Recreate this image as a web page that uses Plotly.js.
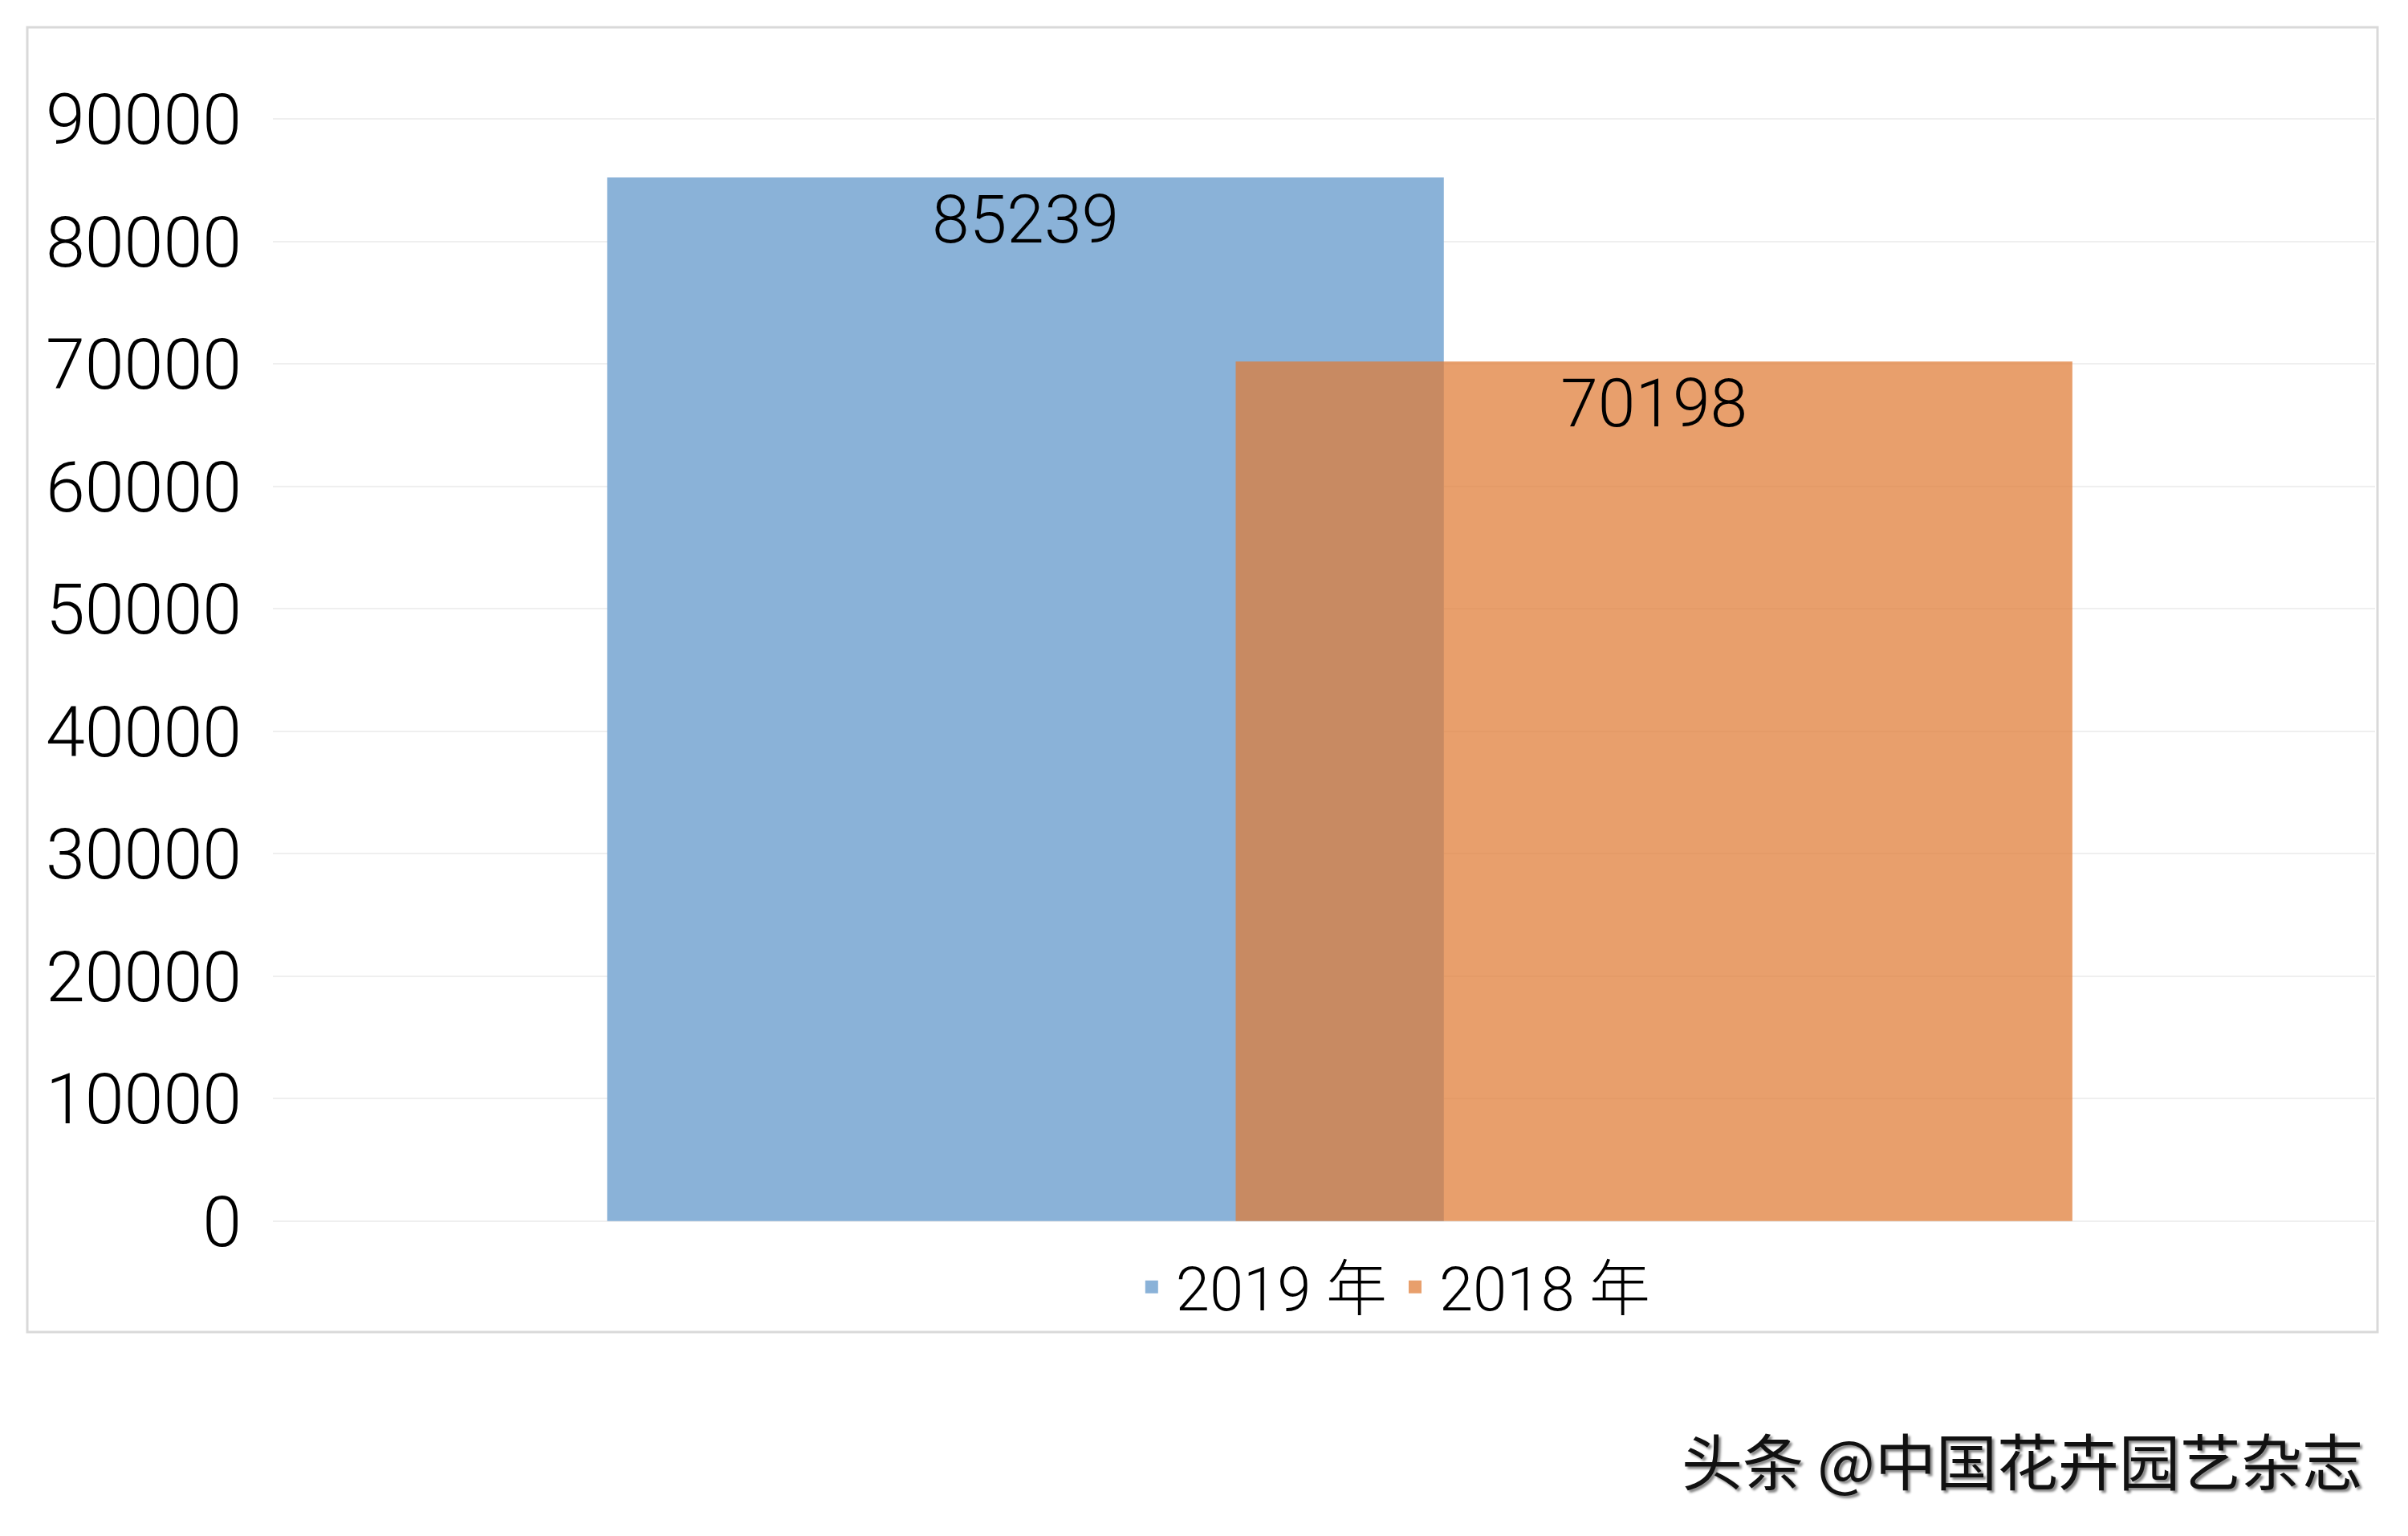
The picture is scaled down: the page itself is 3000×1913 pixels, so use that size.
<!DOCTYPE html>
<html>
<head>
<meta charset="utf-8">
<script src="https://cdn.plot.ly/plotly-3.0.1.min.js"></script>
<style>
  html, body { margin: 0; padding: 0; background: #ffffff; }
  #chart { width: 3000px; height: 1913px; }
</style>
</head>
<body>
<div id="chart"></div>
<script>
// ---- data ----
const categories = ['合计'];
const seriesNames = ['2019 年', '2018 年'];
const values2019 = [85239];
const values2018 = [70198];
const yTickVals = [0, 10000, 20000, 30000, 40000, 50000, 60000, 70000, 80000, 90000];
const watermark = '头条 @中国花卉园艺杂志';

const NUMFONT = 'Roboto, "Noto Sans CJK SC", sans-serif';
const CJKFONT = '"Noto Sans CJK SC", "Noto Sans", sans-serif';
const BLUE = 'rgb(138,178,216)';
const ORANGE = 'rgba(223,124,53,0.73)';

function barTrace(name, vals, color, offset) {
  return {
    type: 'bar',
    name: name,
    x: categories,
    y: vals,
    text: vals.map(String),
    textposition: 'inside',
    insidetextanchor: 'end',
    textangle: 0,
    constraintext: 'none',
    insidetextfont: { family: NUMFONT, size: 84, color: '#000000', weight: 300 },
    width: 0.398,
    offset: offset,
    marker: { color: color, line: { width: 0 } },
    showlegend: false,
    hoverinfo: 'none'
  };
}

function legendProxy(name, color) {
  return {
    type: 'scatter',
    mode: 'markers',
    name: name,
    x: [null],
    y: [null],
    marker: { symbol: 'square', size: 19, color: color, line: { width: 0 } },
    showlegend: true,
    hoverinfo: 'none'
  };
}

const traces = [
  barTrace(seriesNames[0], values2019, BLUE, -0.341),
  barTrace(seriesNames[1], values2018, ORANGE, -0.042),
  legendProxy(seriesNames[0], BLUE),
  legendProxy(seriesNames[1], ORANGE)
];

const layout = {
  width: 3000,
  height: 1913,
  margin: { l: 340, r: 41, t: 146, b: 390, pad: 0 },
  paper_bgcolor: '#ffffff',
  plot_bgcolor: '#ffffff',
  barmode: 'overlay',
  font: { family: NUMFONT, color: '#000000' },
  showlegend: true,
  legend: {
    orientation: 'h',
    x: 0.532,
    xanchor: 'center',
    y: -0.058,
    yanchor: 'middle',
    itemwidth: 50,
    itemsizing: 'trace',
    font: { family: NUMFONT, size: 76, color: '#000000', weight: 300 },
    bgcolor: 'rgba(0,0,0,0)',
    traceorder: 'normal'
  },
  xaxis: {
    type: 'category',
    range: [-0.5, 0.5],
    showticklabels: false,
    showgrid: false,
    zeroline: false,
    showline: false,
    ticks: '',
    fixedrange: true
  },
  yaxis: {
    range: [-150, 90150],
    tickmode: 'array',
    tickvals: yTickVals,
    ticktext: yTickVals.map(String),
    showgrid: true,
    gridcolor: '#efefef',
    gridwidth: 2,
    zeroline: false,
    showline: false,
    ticks: '',
    ticklabelstandoff: 38,
    tickfont: { family: NUMFONT, size: 88, color: '#000000', weight: 300 },
    fixedrange: true
  },
  shapes: [
    {
      type: 'rect',
      xref: 'paper', yref: 'paper',
      x0: (34 - 340) / 2619, x1: (2962 - 340) / 2619,
      y0: (1523 - 1659) / 1377, y1: (1523 - 34) / 1377,
      line: { color: '#d9d9d9', width: 3 },
      fillcolor: 'rgba(0,0,0,0)',
      layer: 'below'
    }
  ],
  annotations: [
    {
      text: watermark,
      xref: 'paper', yref: 'paper',
      x: (2946 - 340) / 2619,
      y: (1523 - 1817) / 1377,
      xanchor: 'right',
      yanchor: 'middle',
      showarrow: false,
      font: { family: CJKFONT, size: 76, color: '#111111', shadow: '3px 3px 3px #888888' }
    }
  ]
};

Plotly.newPlot('chart', traces, layout, { staticPlot: true, displayModeBar: false });
</script>
</body>
</html>
